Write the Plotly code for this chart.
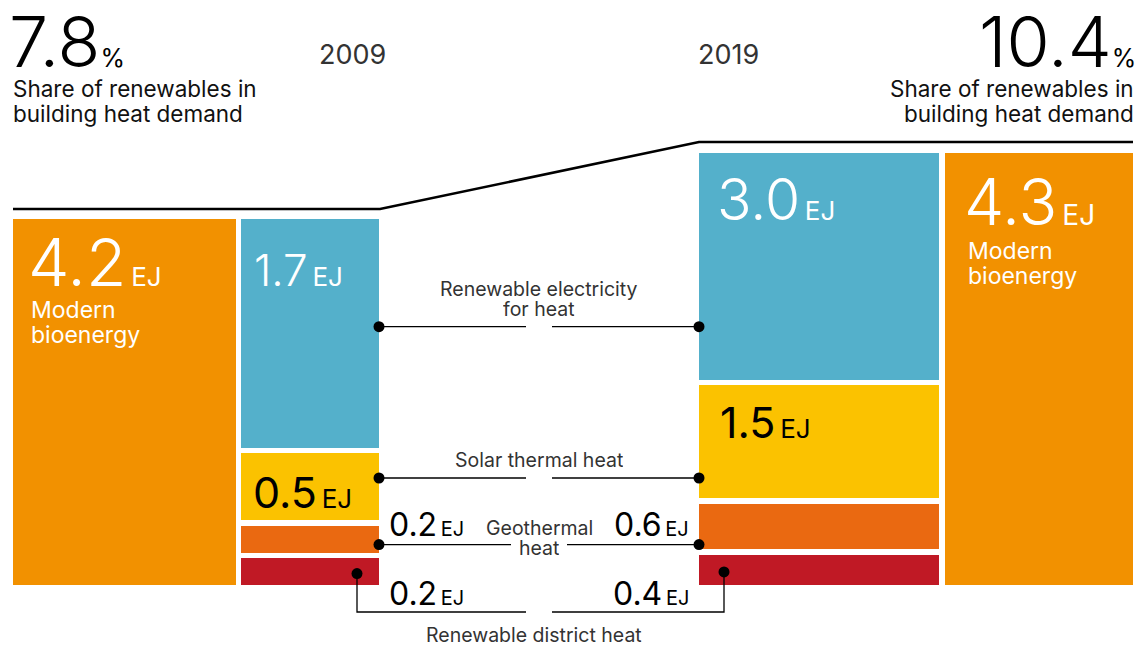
import plotly.graph_objects as go

# ---------------- data ----------------
years = ["2009", "2019"]
share_pct = ["7.8", "10.4"]
bioenergy = [4.2, 4.3]
electricity = [1.7, 3.0]
solar = [0.5, 1.5]
geothermal = [0.2, 0.6]
district = [0.2, 0.4]
stack_names = [["Renewable electricity", "for heat"], ["Solar thermal heat"], ["Geothermal", "heat"],
               ["Renewable district heat"]]
share_label = ["Share of renewables in", "building heat demand"]
bio_label = ["Modern", "bioenergy"]

# ---------------- style / layout ----------------
W, H = 1139, 646
FONT = "Inter"
C_BIO = "#F29100"
C_STACK = ["#54B0CB", "#FBC200", "#EA6911", "#C01925"]
BOTTOM = 585
GAP = 5.5
GROUPS = [dict(x0=13, width=366, height=366, bio_first=True),
          dict(x0=699, width=434, height=432, bio_first=False)]
CONN_FRAC = [0.67, 0.55, 0.8]
THIN = "\u2009"
TIGHT = 0.85  # text box height (fraction of font size) for lines without descenders

stacks = [electricity, solar, geothermal, district]

geo = []
for i, g in enumerate(GROUPS):
    svals = [s[i] for s in stacks]
    total = bioenergy[i] + sum(svals)
    inner_w = g["width"] - GAP
    bio_w = inner_w * bioenergy[i] / total
    st_w = inner_w - bio_w
    if g["bio_first"]:
        bio_x0 = g["x0"]
        st_x0 = g["x0"] + bio_w + GAP
    else:
        st_x0 = g["x0"]
        bio_x0 = g["x0"] + st_w + GAP
    top = BOTTOM - g["height"]
    inner_h = g["height"] - GAP * (len(svals) - 1)
    segs = []
    y = top
    for v in svals:
        h = inner_h * v / sum(svals)
        segs.append((y, y + h))
        y += h + GAP
    geo.append(dict(bio_x0=bio_x0, bio_w=bio_w, st_x0=st_x0, st_w=st_w, top=top, segs=segs))

fig = go.Figure()

# bioenergy bars
fig.add_trace(go.Bar(
    x=[g["bio_x0"] + g["bio_w"] / 2 for g in geo],
    width=[g["bio_w"] for g in geo],
    base=[g["top"] for g in geo],
    y=[BOTTOM - g["top"] for g in geo],
    marker=dict(color=C_BIO, line=dict(width=0)),
    hoverinfo="skip", showlegend=False))

# stacked segments
for k, vals in enumerate(stacks):
    fig.add_trace(go.Bar(
        x=[g["st_x0"] + g["st_w"] / 2 for g in geo],
        width=[g["st_w"] for g in geo],
        base=[g["segs"][k][0] for g in geo],
        y=[g["segs"][k][1] - g["segs"][k][0] for g in geo],
        marker=dict(color=C_STACK[k], line=dict(width=0)),
        hoverinfo="skip", showlegend=False))

# top outline line
g0, g1 = geo
fig.add_trace(go.Scatter(
    x=[g0["bio_x0"], g0["st_x0"] + g0["st_w"] + 1, g1["st_x0"], g1["bio_x0"] + g1["bio_w"]],
    y=[g0["top"] - 10, g0["top"] - 10, g1["top"] - 11, g1["top"] - 11],
    mode="lines", line=dict(color="black", width=2.5), hoverinfo="skip", showlegend=False))

# connectors
xl = g0["st_x0"] + g0["st_w"]
xr = g1["st_x0"]
xm = (xl + xr) / 2
conn_gap = [13, 13, 28]
conn_y = []
for k in range(3):
    lo = max(g0["segs"][k][0], g1["segs"][k][0])
    hi = min(g0["segs"][k][1], g1["segs"][k][1])
    yy = lo + CONN_FRAC[k] * (hi - lo)
    conn_y.append(yy)
    fig.add_trace(go.Scatter(
        x=[xl, xm - conn_gap[k], None, xm + conn_gap[k], xr],
        y=[yy, yy, None, yy, yy], mode="lines",
        line=dict(color="black", width=1.3), hoverinfo="skip", showlegend=False))
    fig.add_trace(go.Scatter(x=[xl, xr], y=[yy, yy], mode="markers",
                             marker=dict(color="black", size=11), hoverinfo="skip", showlegend=False))

# district connector
dx0 = xl - 22
dx1 = xr + 25
dy0 = (g0["segs"][3][0] + g0["segs"][3][1]) / 2 + 2
dy1 = (g1["segs"][3][0] + g1["segs"][3][1]) / 2 + 2
dyl = BOTTOM + 27
fig.add_trace(go.Scatter(
    x=[dx0, dx0, xm - 13, None, xm + 13, dx1, dx1],
    y=[dy0, dyl, dyl, None, dyl, dyl, dy1], mode="lines",
    line=dict(color="black", width=1.3), hoverinfo="skip", showlegend=False))
fig.add_trace(go.Scatter(x=[dx0, dx1], y=[dy0, dy1], mode="markers",
                         marker=dict(color="black", size=11), hoverinfo="skip", showlegend=False))

ann = []


def has_desc(s):
    return any(c in s for c in "gjpqy")


def A(x, y, text, size, color="#000", xanchor="left", tight=False):
    d = dict(x=x, y=y, xref="x", yref="y", text=text, showarrow=False,
             font=dict(family=FONT, size=size, color=color),
             xanchor=xanchor, yanchor="middle", align="left", borderpad=0)
    if tight:
        d["height"] = round(TIGHT * size, 1)
    ann.append(d)


def lines(x, y, parts, size, spacing, color="#000", xanchor="left"):
    for j, p in enumerate(parts):
        A(x, y + j * spacing, p, size, color=color, xanchor=xanchor, tight=not has_desc(p))


def big(num, nsize, usize, unit="EJ", w=300):
    return (f'<span style="font-size:{nsize}px;font-weight:{w}">{num}</span>'
            f'<span style="font-size:{usize}px">{THIN}{unit}</span>')


def fmt(v):
    return f"{v:.1f}"

# header
pct = lambda s: f'<span style="font-size:70px;font-weight:300">{s}</span><span style="font-size:25px">%</span>'
A(8, 42, pct(share_pct[0]), 70, tight=True)
lines(12, 88, share_label, 22.5, 25, color="#111")
A(1137, 42, pct(share_pct[1]), 70, xanchor="right", tight=True)
lines(1135, 88, share_label, 22.5, 25, color="#111", xanchor="right")
A(g0["st_x0"] + g0["st_w"] + 8, 54, years[0], 27, color="#333", xanchor="right", tight=True)
A(g1["st_x0"] - 2, 54, years[1], 27, color="#333", tight=True)

# in-bar labels
A(g0["bio_x0"] + 14, g0["top"] + 43, big(fmt(bioenergy[0]), 66, 26), 66, color="white", tight=True)
lines(g0["bio_x0"] + 17, g0["top"] + 91, bio_label, 23, 25, color="white")
A(g1["bio_x0"] + 18, g1["top"] + 48, big(fmt(bioenergy[1]), 64, 28), 64, color="white", tight=True)
lines(g1["bio_x0"] + 22, g1["top"] + 98, bio_label, 23, 25, color="white")

A(g0["st_x0"] + 12, g0["segs"][0][0] + 50, big(fmt(electricity[0]), 44, 26), 44, color="white", tight=True)
A(g1["st_x0"] + 17, g1["segs"][0][0] + 46, big(fmt(electricity[1]), 57, 26), 57, color="white", tight=True)
A(g0["st_x0"] + 11, (g0["segs"][1][0] + g0["segs"][1][1]) / 2 + 6, big(fmt(solar[0]), 43, 26, w=400), 43,
  tight=True)
A(g1["st_x0"] + 20, g1["segs"][1][0] + 37, big(fmt(solar[1]), 43, 26, w=400), 43, tight=True)

# small value labels
A(xl + 9, conn_y[2] - 20, big(fmt(geothermal[0]), 32, 20, w=400), 32, tight=True)
A(xr - 9, conn_y[2] - 20, big(fmt(geothermal[1]), 32, 20, w=400), 32, xanchor="right", tight=True)
A(xl + 9, dyl - 19, big(fmt(district[0]), 32, 20, w=400), 32, tight=True)
A(xr - 9, dyl - 19, big(fmt(district[1]), 32, 20, w=400), 32, xanchor="right", tight=True)

# connector labels
lines(xm, conn_y[0] - 38, stack_names[0], 19.5, 21, color="#333", xanchor="center")
lines(xm, conn_y[1] - 18, stack_names[1], 19.5, 21, color="#333", xanchor="center")
lines(xm, conn_y[2] - 16, stack_names[2], 19.5, 20, color="#333", xanchor="center")
lines(xm - 5, dyl + 23, stack_names[3], 19.5, 21, color="#333", xanchor="center")

fig.update_layout(
    width=W, height=H, margin=dict(l=0, r=0, t=0, b=0),
    paper_bgcolor="white", plot_bgcolor="white",
    barmode="overlay", bargap=0,
    xaxis=dict(range=[0, W], visible=False, fixedrange=True),
    yaxis=dict(range=[H, 0], visible=False, fixedrange=True),
    annotations=ann, showlegend=False,
)

fig.write_html("out.html", config={"displayModeBar": False},
               post_script="document.body.style.margin='0';")
